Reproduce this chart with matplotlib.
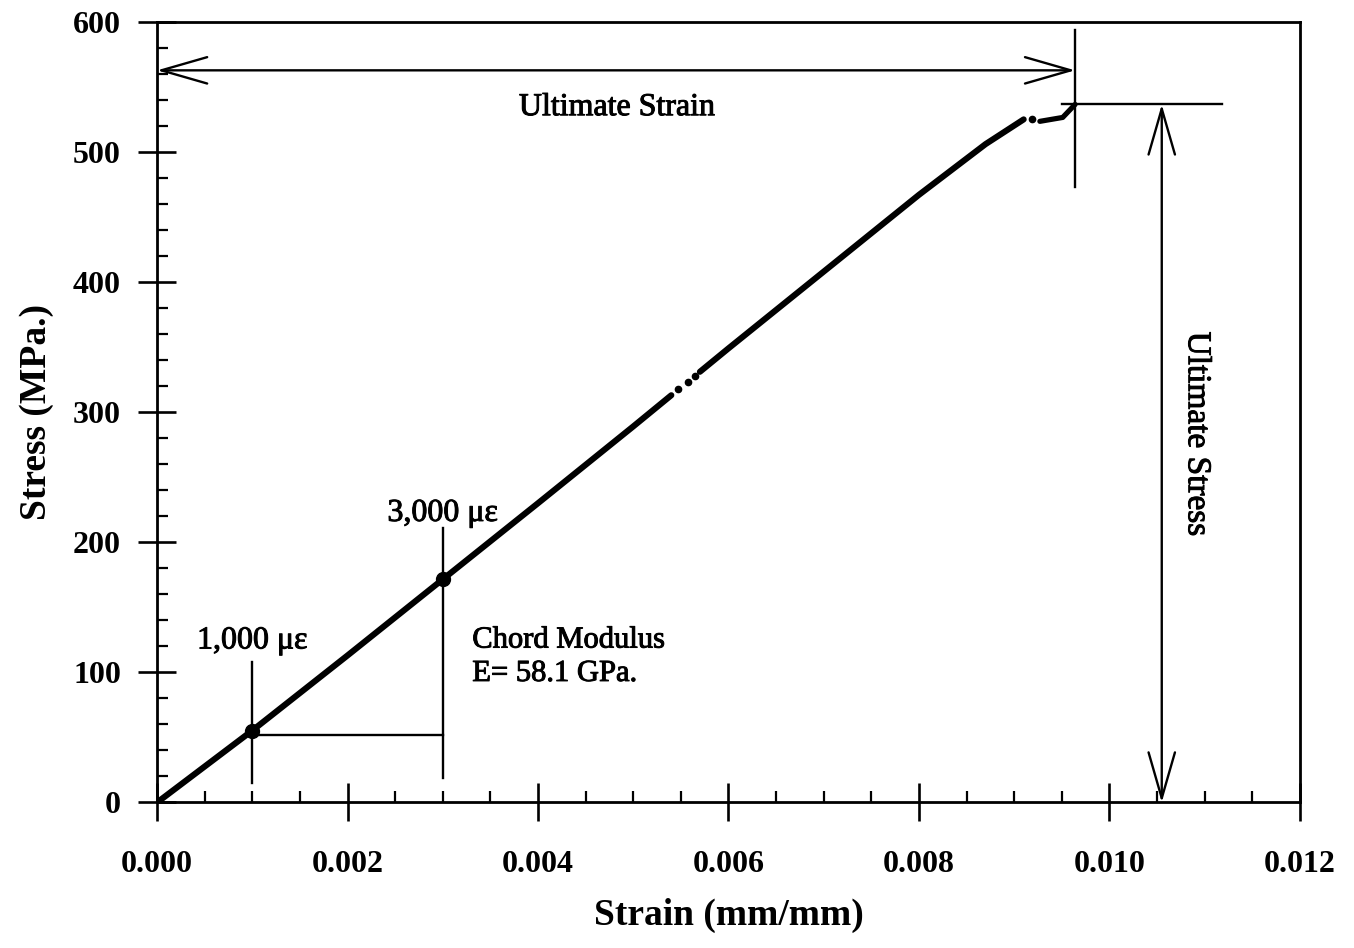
import numpy as np
import matplotlib
matplotlib.use("Agg")
import matplotlib.pyplot as plt
import matplotlib.patheffects as pe
from matplotlib.ticker import MultipleLocator

# Measured stress-strain response (strain in mm/mm, stress in MPa)
strain_main = [0.0, 0.0010, 0.0020, 0.0030, 0.0040, 0.0050, 0.0054]
stress_main = [0.0, 55.3, 113.0, 171.5, 230.0, 289.0, 313.0]
strain_dots = [0.00547, 0.00557, 0.00565]
stress_dots = [317.5, 323.0, 327.5]
strain_upper = [0.0057, 0.0060, 0.0070, 0.0080, 0.0087, 0.0091]
stress_upper = [331.0, 349.0, 408.0, 467.0, 506.0, 525.0]
strain_tail_dot = [0.00919]
stress_tail_dot = [525.0]
strain_tail = [0.00927, 0.00951, 0.00964]
stress_tail = [523.5, 526.5, 536.5]

# Chord-modulus points and ultimate values
chord_strain = [0.001, 0.003]
chord_stress = [55.3, 171.5]
chord_labels = ["1,000 \u03bc\u03b5", "3,000 \u03bc\u03b5"]
ult_strain = 0.00964
ult_stress = 536.5
modulus_text = "Chord Modulus\nE= 58.1 GPa."

x_ticks = [0.000, 0.002, 0.004, 0.006, 0.008, 0.010, 0.012]
y_ticks = [0, 100, 200, 300, 400, 500, 600]

serif = ["Liberation Serif", "DejaVu Serif"]
plt.rcParams["font.family"] = serif

fig = plt.figure(figsize=(13.54, 9.48), dpi=100)
ax = fig.add_axes([0.116, 0.1535, 0.844, 0.8235])

ink = [pe.withStroke(linewidth=0.7, foreground="black")]

lw_curve = 4.4
ax.plot(strain_main, stress_main, color="black", lw=lw_curve, solid_capstyle="round")
ax.plot(strain_dots, stress_dots, "o", color="black", ms=4.5)
ax.plot(strain_upper, stress_upper, color="black", lw=lw_curve, solid_capstyle="round")
ax.plot(strain_tail_dot, stress_tail_dot, "o", color="black", ms=4.5)
ax.plot(strain_tail, stress_tail, color="black", lw=lw_curve * 0.85, solid_capstyle="round")

# Chord modulus construction
ax.plot(chord_strain, chord_stress, "o", color="black", ms=10)
ax.plot([chord_strain[0]] * 2, [15, 108], color="black", lw=1.7)
ax.plot([chord_strain[1]] * 2, [19, 211], color="black", lw=1.7)
ax.plot(chord_strain, [52, 52], color="black", lw=1.7)
ax.text(0.00100, 113, chord_labels[0], ha="center", va="bottom", fontsize=23,
        path_effects=ink)
ax.text(0.00300, 211, chord_labels[1], ha="center", va="bottom", fontsize=23,
        path_effects=ink)
ax.text(0.00331, 112, modulus_text, ha="left", va="center", fontsize=22,
        linespacing=1.2, path_effects=ink)

# Ultimate strain dimension
ax.plot([ult_strain] * 2, [473, 594], color="black", lw=1.7)
ax.annotate("", xy=(0.0, 562.7), xytext=(ult_strain, 562.7),
            arrowprops=dict(arrowstyle="<->,head_length=33,head_width=9.5",
                            mutation_scale=1, lw=1.7, color="black",
                            shrinkA=0, shrinkB=0))
ax.text(0.00483, 534, "Ultimate Strain", ha="center", va="center", fontsize=23,
        path_effects=ink)

# Ultimate stress dimension
ax.plot([0.0095, 0.01118], [ult_stress] * 2, color="black", lw=1.7)
ax.annotate("", xy=(0.01055, 0.0), xytext=(0.01055, ult_stress),
            arrowprops=dict(arrowstyle="<->,head_length=33,head_width=9.5",
                            mutation_scale=1, lw=1.7, color="black",
                            shrinkA=0, shrinkB=0))
ax.text(0.01092, 283, "Ultimate Stress", ha="center", va="center", fontsize=24,
        rotation=-90, path_effects=ink)

ax.set_xlim(0, 0.012)
ax.set_ylim(0, 600)
ax.set_xticks(x_ticks)
ax.set_xticklabels([f"{v:.3f}" for v in x_ticks])
ax.set_yticks(y_ticks)
ax.xaxis.set_minor_locator(MultipleLocator(0.0005))
ax.yaxis.set_minor_locator(MultipleLocator(20))
ax.tick_params(which="major", direction="inout", length=28, width=1.9,
               labelsize=23, top=False, right=False)
ax.tick_params(axis="x", which="major", pad=20)
ax.tick_params(axis="y", which="major", pad=12)
ax.tick_params(which="minor", direction="in", length=8, width=1.6,
               top=False, right=False)
for lab in ax.get_xticklabels() + ax.get_yticklabels():
    lab.set_fontweight("bold")
for sp in ax.spines.values():
    sp.set_linewidth(2.0)

ax.set_xlabel("Strain (mm/mm)", fontsize=27, fontweight="bold", labelpad=14)
ax.set_ylabel("Stress (MPa.)", fontsize=27, fontweight="bold", labelpad=14)

fig.savefig("out.png", dpi=100)
